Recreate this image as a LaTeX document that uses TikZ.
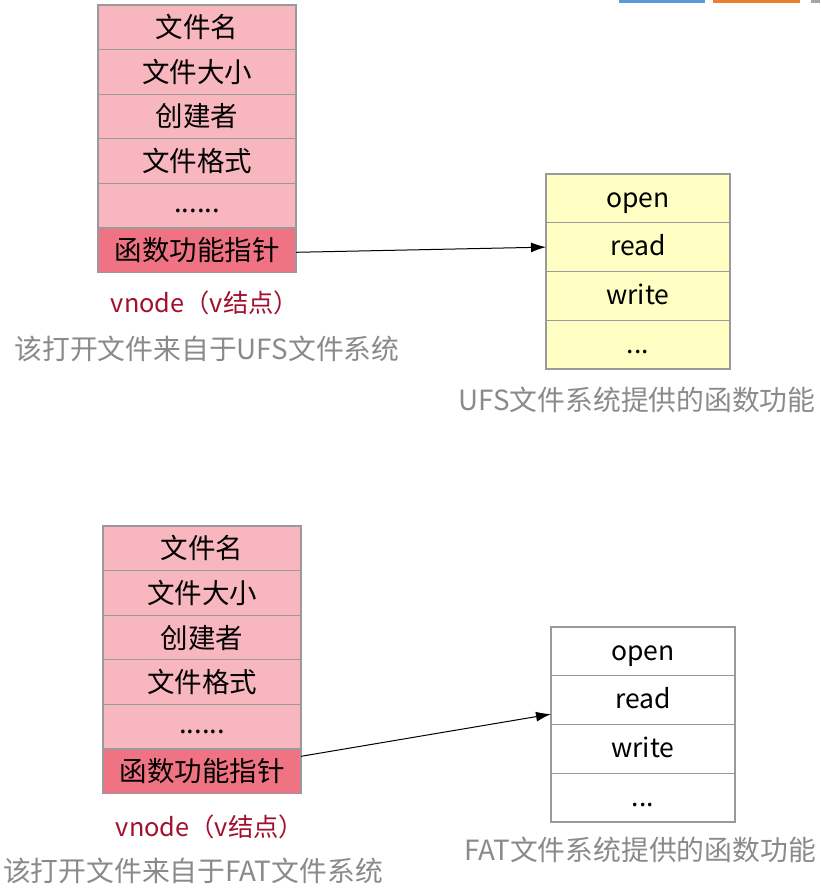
\documentclass[tikz,border=0pt]{standalone}
\usepackage{fontspec}
\setmainfont{Noto Sans CJK SC}
\usetikzlibrary{arrows.meta,calc}
\definecolor{pinkcell}{HTML}{F8B6BF}
\definecolor{redcell}{HTML}{F07384}
\definecolor{yelcell}{HTML}{FFFFC4}
\definecolor{cellline}{HTML}{9A9A9A}
\definecolor{vred}{HTML}{A3102E}
\definecolor{greytxt}{HTML}{8A8A8A}
\definecolor{barblue}{HTML}{5B9BD5}
\definecolor{barorange}{HTML}{ED7D31}
\definecolor{bargrey}{HTML}{A5A5A5}
\tikzset{
  cell/.style={draw=cellline, line width=1.2pt, rectangle, inner sep=0pt, outer sep=0pt,
    anchor=north west, text=black},
  lcell/.style={cell, minimum width=198pt, minimum height=44.6pt, fill=pinkcell,
    font=\fontsize{27.5}{32}\selectfont, text height=24pt, text depth=3pt},
  lcellptr/.style={lcell, fill=redcell},
  rcell/.style={cell, minimum width=184pt, minimum height=48.75pt,
    font=\fontsize{26.5}{31}\selectfont, text height=20pt, text depth=2.6pt},
  vlabel/.style={font=\fontsize{25.3}{30}\selectfont, text=vred, inner sep=0pt},
  glabel/.style={font=\fontsize{27.8}{32}\selectfont, text=greytxt, inner sep=0pt},
  ptr/.style={-{Latex[length=15pt,width=10pt]}, line width=1pt, black},
}
\begin{document}
\begin{tikzpicture}[x=1pt,y=-1pt]
\useasboundingbox (0,0) rectangle (820,890);
\fill[white] (0,0) rectangle (820,890);
% top-right bars
\fill[barblue] (619,0) rectangle (705,3.5);
\fill[barorange] (713,0) rectangle (800,3.5);
\fill[bargrey] (811,0) rectangle (820,3.5);

% ---------- top vnode ----------
\node[lcell] (a1) at (98,5) {文件名};
\node[lcell] (a2) at (a1.south west) {文件大小};
\node[lcell] (a3) at (a2.south west) {创建者};
\node[lcell] (a4) at (a3.south west) {文件格式};
\node[lcell] (a5) at (a4.south west) {\raisebox{4pt}{......}};
\node[lcellptr] (a6) at (a5.south west) {函数功能指针};

\node[vlabel] (av) at (205,303) {vnode（v结点）};
\node[glabel] (ag) at (207,349) {该打开文件来自于UFS文件系统};

% ---------- top functions ----------
\node[rcell, fill=yelcell] (b1) at (546,174) {open};
\node[rcell, fill=yelcell] (b2) at (b1.south west) {read};
\node[rcell, fill=yelcell] (b3) at (b2.south west) {write};
\node[rcell, fill=yelcell] (b4) at (b3.south west) {...};
\node[glabel] (bg) at (637,400) {UFS文件系统提供的函数功能};

\draw[ptr] ([yshift=-2pt]a6.east) -- (b2.west);

% ---------- bottom vnode ----------
\node[lcell] (c1) at (103,526) {文件名};
\node[lcell] (c2) at (c1.south west) {文件大小};
\node[lcell] (c3) at (c2.south west) {创建者};
\node[lcell] (c4) at (c3.south west) {文件格式};
\node[lcell] (c5) at (c4.south west) {\raisebox{4pt}{......}};
\node[lcellptr] (c6) at (c5.south west) {函数功能指针};

\node[vlabel] (cv) at (210,827) {vnode（v结点）};
\node[glabel] (cg) at (193,871) {该打开文件来自于FAT文件系统};

% ---------- bottom functions ----------
\node[rcell, fill=white] (d1) at (551,627) {open};
\node[rcell, fill=white] (d2) at (d1.south west) {read};
\node[rcell, fill=white] (d3) at (d2.south west) {write};
\node[rcell, fill=white] (d4) at (d3.south west) {...};
\node[glabel] (dg) at (640,850) {FAT文件系统提供的函数功能};

\draw[ptr] ([yshift=15pt]c6.east) -- ([yshift=-14pt]d2.west);
\end{tikzpicture}
\end{document}
